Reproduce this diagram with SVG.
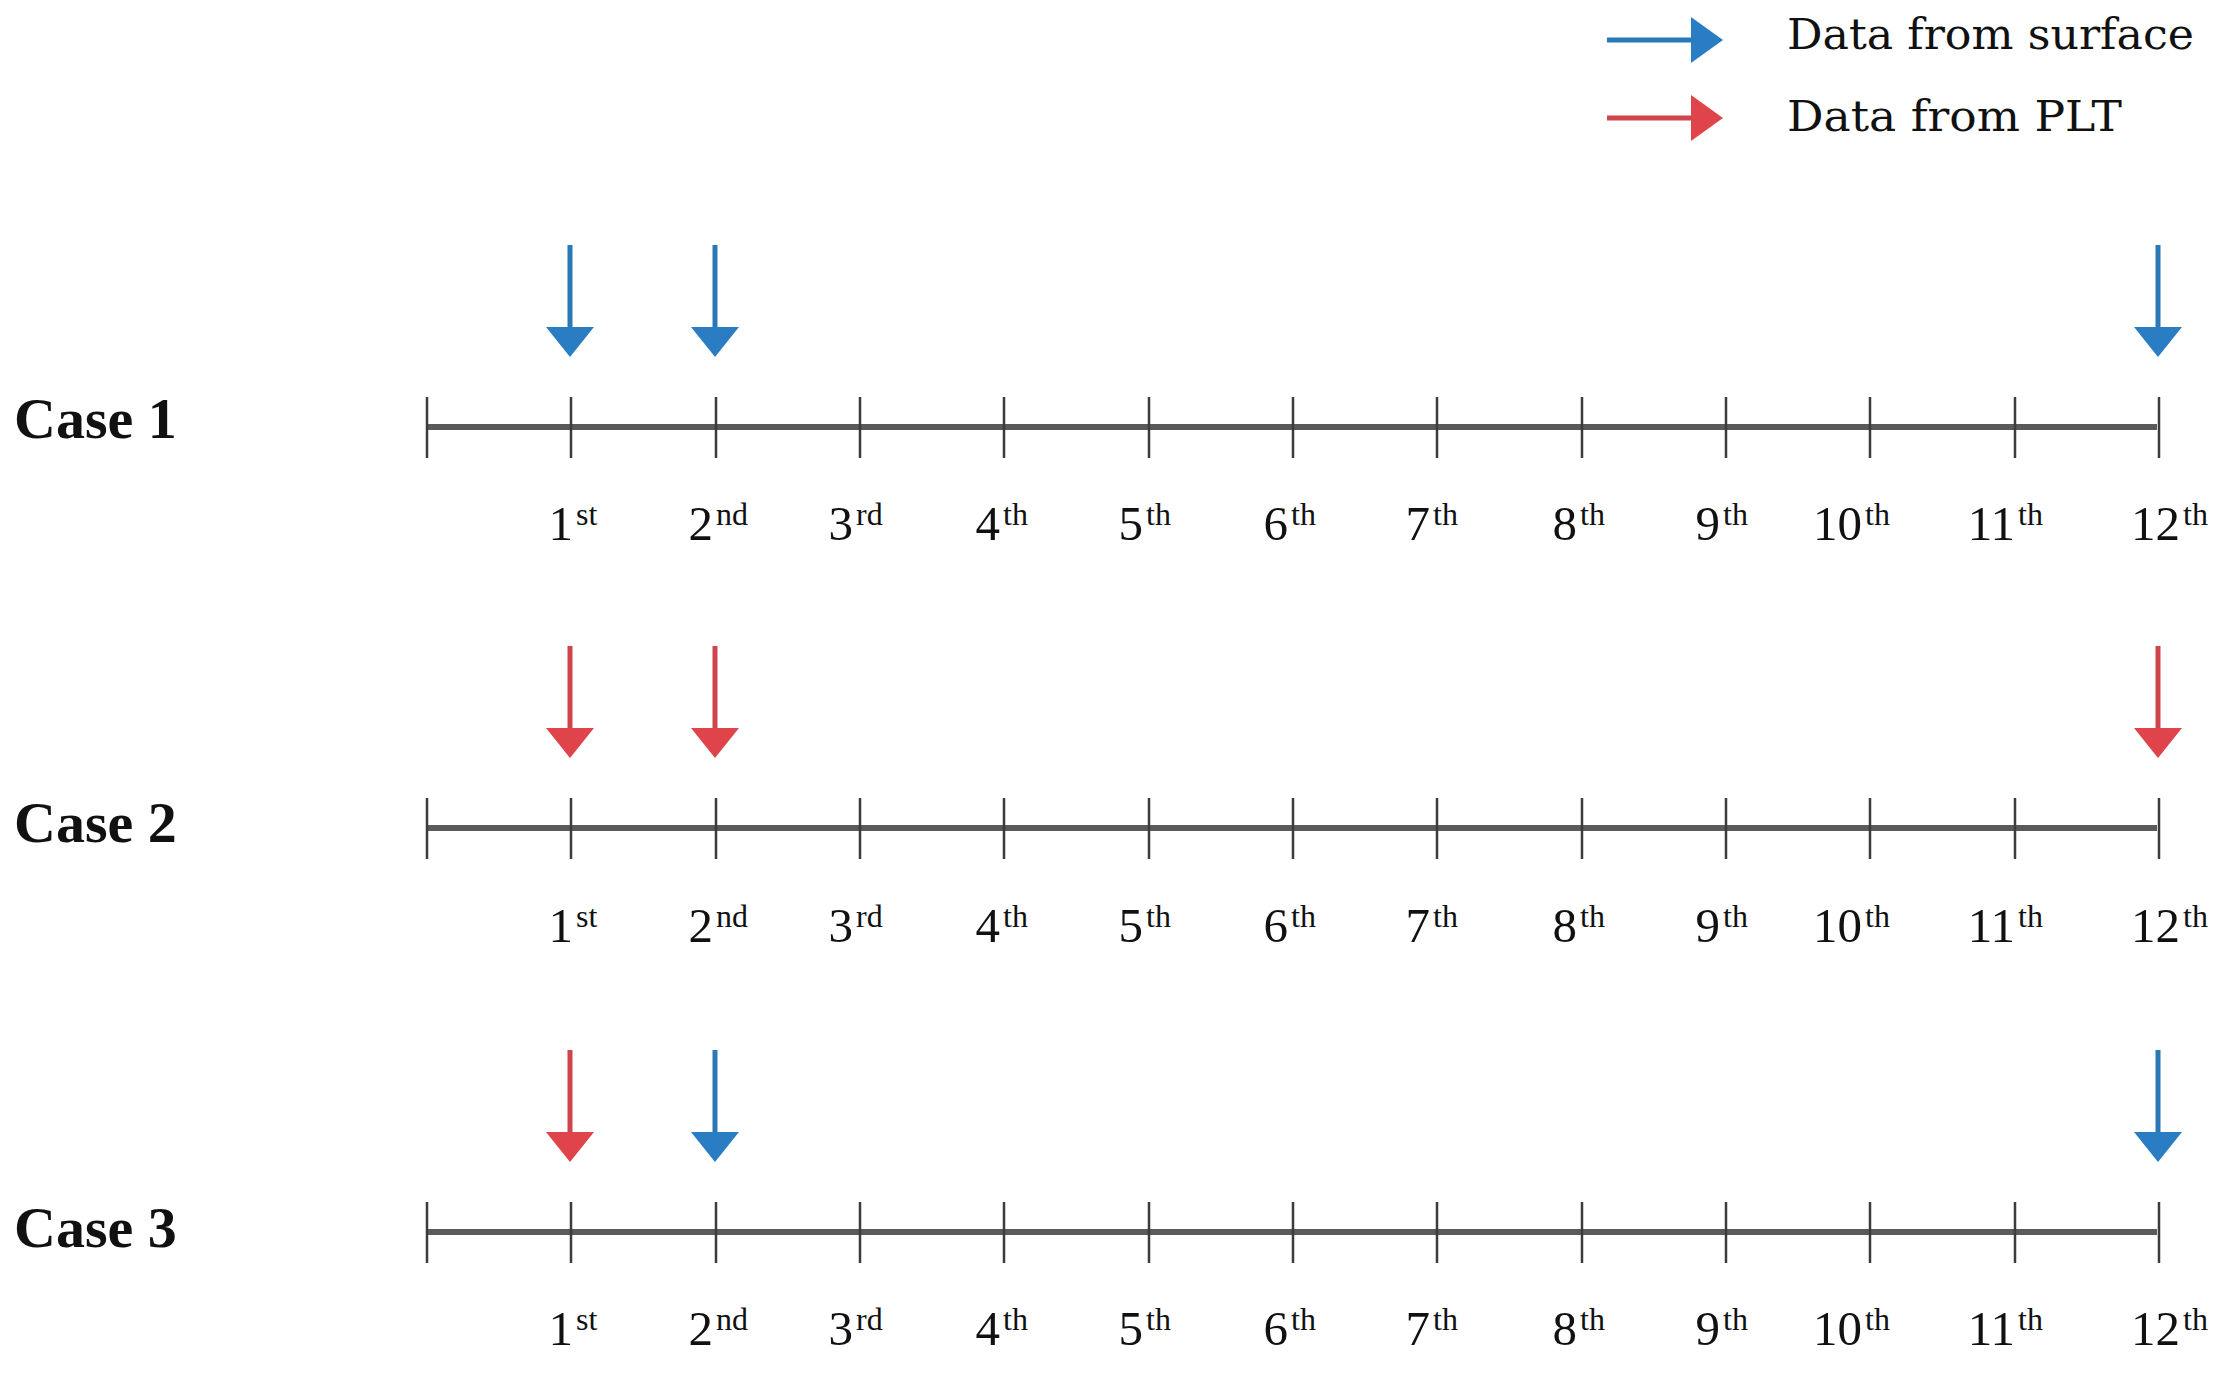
<svg xmlns="http://www.w3.org/2000/svg" width="2230" height="1383" viewBox="0 0 2230 1383">
<style>
.case{font-family:"Liberation Serif","DejaVu Serif",serif;font-weight:bold;font-size:58px;fill:#111}
.leg{font-family:"DejaVu Serif","Liberation Serif",serif;font-size:42px;fill:#111}
.d{font-family:"Liberation Serif","DejaVu Serif",serif;font-size:49px;fill:#111;text-anchor:end}
.s{font-family:"Liberation Serif","DejaVu Serif",serif;font-size:32px;fill:#111}
.axis{stroke:#5a5a5a;stroke-width:6;fill:none}
.tick{stroke:#3c3c3c;stroke-width:2.5;fill:none}
.bs{stroke:#2b78b6;stroke-width:5;fill:none}
.rs{stroke:#cf454c;stroke-width:5;fill:none}
.bh{fill:#2a7dc2}
.rh{fill:#de444a}
</style>
<rect width="2230" height="1383" fill="#ffffff"/>
<g id="legend">
  <line class="bs" x1="1607" y1="40" x2="1695" y2="40"/>
  <polygon class="bh" points="1691,17 1723,40 1691,63"/>
  <text class="leg" x="1787" y="49" textLength="407" lengthAdjust="spacingAndGlyphs">Data from surface</text>
  <line class="rs" x1="1607" y1="118" x2="1695" y2="118"/>
  <polygon class="rh" points="1691,95 1723,118 1691,141"/>
  <text class="leg" x="1787" y="131" textLength="335" lengthAdjust="spacingAndGlyphs">Data from PLT</text>
</g>

<g id="case1">
  <text class="case" x="14" y="438">Case 1</text>
  <line class="axis" x1="427" y1="427" x2="2157" y2="427"/>
  <path class="tick" d="M427 397V458M571 397V458M716 397V458M860 397V458M1004 397V458M1149 397V458M1293 397V458M1437 397V458M1582 397V458M1726 397V458M1870 397V458M2015 397V458M2159 397V458"/>
  <g>
    <text class="d" x="573" y="540">1</text><text class="s" x="576" y="525">st</text>
    <text class="d" x="713" y="540">2</text><text class="s" x="716" y="525">nd</text>
    <text class="d" x="853" y="540">3</text><text class="s" x="856" y="525">rd</text>
    <text class="d" x="1000" y="540">4</text><text class="s" x="1003" y="525">th</text>
    <text class="d" x="1143" y="540">5</text><text class="s" x="1146" y="525">th</text>
    <text class="d" x="1288" y="540">6</text><text class="s" x="1291" y="525">th</text>
    <text class="d" x="1430" y="540">7</text><text class="s" x="1433" y="525">th</text>
    <text class="d" x="1577" y="540">8</text><text class="s" x="1580" y="525">th</text>
    <text class="d" x="1720" y="540">9</text><text class="s" x="1723" y="525">th</text>
    <text class="d" x="1862" y="540">10</text><text class="s" x="1865" y="525">th</text>
    <text class="d" x="2015" y="540">11</text><text class="s" x="2018" y="525">th</text>
    <text class="d" x="2180" y="540">12</text><text class="s" x="2183" y="525">th</text>
  </g>
</g>

<g id="case2">
  <text class="case" x="14" y="842">Case 2</text>
  <line class="axis" x1="427" y1="828" x2="2157" y2="828"/>
  <path class="tick" d="M427 798V859M571 798V859M716 798V859M860 798V859M1004 798V859M1149 798V859M1293 798V859M1437 798V859M1582 798V859M1726 798V859M1870 798V859M2015 798V859M2159 798V859"/>
  <g>
    <text class="d" x="573" y="942">1</text><text class="s" x="576" y="927">st</text>
    <text class="d" x="713" y="942">2</text><text class="s" x="716" y="927">nd</text>
    <text class="d" x="853" y="942">3</text><text class="s" x="856" y="927">rd</text>
    <text class="d" x="1000" y="942">4</text><text class="s" x="1003" y="927">th</text>
    <text class="d" x="1143" y="942">5</text><text class="s" x="1146" y="927">th</text>
    <text class="d" x="1288" y="942">6</text><text class="s" x="1291" y="927">th</text>
    <text class="d" x="1430" y="942">7</text><text class="s" x="1433" y="927">th</text>
    <text class="d" x="1577" y="942">8</text><text class="s" x="1580" y="927">th</text>
    <text class="d" x="1720" y="942">9</text><text class="s" x="1723" y="927">th</text>
    <text class="d" x="1862" y="942">10</text><text class="s" x="1865" y="927">th</text>
    <text class="d" x="2015" y="942">11</text><text class="s" x="2018" y="927">th</text>
    <text class="d" x="2180" y="942">12</text><text class="s" x="2183" y="927">th</text>
  </g>
</g>

<g id="case3">
  <text class="case" x="14" y="1247">Case 3</text>
  <line class="axis" x1="427" y1="1232" x2="2157" y2="1232"/>
  <path class="tick" d="M427 1202V1263M571 1202V1263M716 1202V1263M860 1202V1263M1004 1202V1263M1149 1202V1263M1293 1202V1263M1437 1202V1263M1582 1202V1263M1726 1202V1263M1870 1202V1263M2015 1202V1263M2159 1202V1263"/>
  <g>
    <text class="d" x="573" y="1345">1</text><text class="s" x="576" y="1330">st</text>
    <text class="d" x="713" y="1345">2</text><text class="s" x="716" y="1330">nd</text>
    <text class="d" x="853" y="1345">3</text><text class="s" x="856" y="1330">rd</text>
    <text class="d" x="1000" y="1345">4</text><text class="s" x="1003" y="1330">th</text>
    <text class="d" x="1143" y="1345">5</text><text class="s" x="1146" y="1330">th</text>
    <text class="d" x="1288" y="1345">6</text><text class="s" x="1291" y="1330">th</text>
    <text class="d" x="1430" y="1345">7</text><text class="s" x="1433" y="1330">th</text>
    <text class="d" x="1577" y="1345">8</text><text class="s" x="1580" y="1330">th</text>
    <text class="d" x="1720" y="1345">9</text><text class="s" x="1723" y="1330">th</text>
    <text class="d" x="1862" y="1345">10</text><text class="s" x="1865" y="1330">th</text>
    <text class="d" x="2015" y="1345">11</text><text class="s" x="2018" y="1330">th</text>
    <text class="d" x="2180" y="1345">12</text><text class="s" x="2183" y="1330">th</text>
  </g>
</g>

<g id="connectors">
  <!-- Case 1: surface -->
  <line class="bs" x1="570" y1="245" x2="570" y2="330"/><polygon class="bh" points="546,327 594,327 570,357"/>
  <line class="bs" x1="715" y1="245" x2="715" y2="330"/><polygon class="bh" points="691,327 739,327 715,357"/>
  <line class="bs" x1="2158" y1="245" x2="2158" y2="330"/><polygon class="bh" points="2134,327 2182,327 2158,357"/>
  <!-- Case 2: PLT -->
  <line class="rs" x1="570" y1="646" x2="570" y2="731"/><polygon class="rh" points="546,728 594,728 570,758"/>
  <line class="rs" x1="715" y1="646" x2="715" y2="731"/><polygon class="rh" points="691,728 739,728 715,758"/>
  <line class="rs" x1="2158" y1="646" x2="2158" y2="731"/><polygon class="rh" points="2134,728 2182,728 2158,758"/>
  <!-- Case 3: mixed -->
  <line class="rs" x1="570" y1="1050" x2="570" y2="1135"/><polygon class="rh" points="546,1132 594,1132 570,1162"/>
  <line class="bs" x1="715" y1="1050" x2="715" y2="1135"/><polygon class="bh" points="691,1132 739,1132 715,1162"/>
  <line class="bs" x1="2158" y1="1050" x2="2158" y2="1135"/><polygon class="bh" points="2134,1132 2182,1132 2158,1162"/>
</g>
</svg>
